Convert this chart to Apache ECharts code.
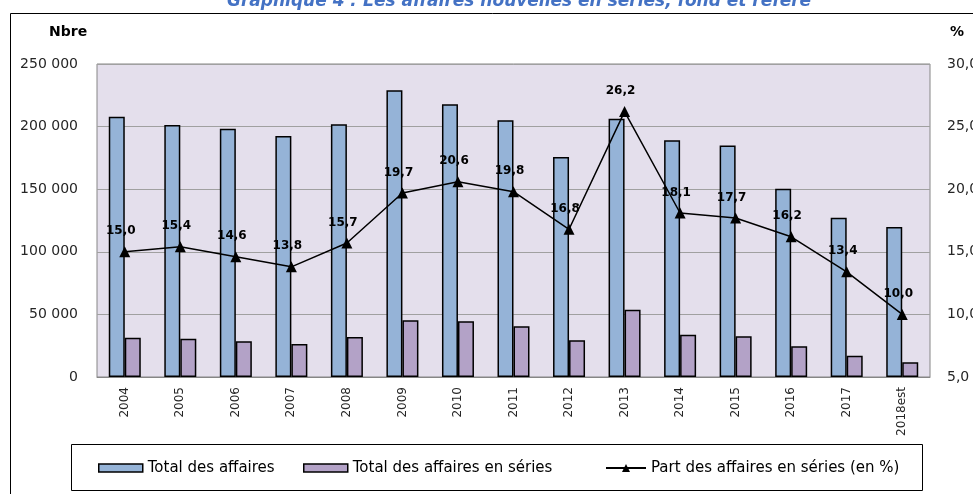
<!DOCTYPE html>
<html>
<head>
<meta charset="utf-8">
<script src="https://cdn.jsdelivr.net/npm/echarts@6/dist/echarts.min.js"></script>
<style>
    html, body { margin: 0; padding: 0; background: #fff; }
    #chart_main { width: 973px; height: 494px; }
</style>
</head>
<body>
<div id="chart_main"></div>
<script>
    // donnees
    let years = ['2004', '2005', '2006', '2007', '2008', '2009', '2010', '2011', '2012', '2013', '2014', '2015', '2016', '2017', '2018est'];
    let totalAffaires = [207900, 201300, 198300, 192500, 201800, 229000, 217800, 205000, 175700, 206300, 189000, 185000, 150400, 127200, 119800];
    let affairesSeries = [31400, 30600, 28500, 26400, 31900, 45300, 44500, 40500, 29300, 53800, 33800, 32500, 24500, 17000, 11700];
    let partSeries = [15.0, 15.4, 14.6, 13.8, 15.7, 19.7, 20.6, 19.8, 16.8, 26.2, 18.1, 17.7, 16.2, 13.4, 10.0];

    let name1 = 'Total des affaires';
    let name2 = 'Total des affaires en séries';
    let name3 = 'Part des affaires en séries (en %)';

    let font = 'DejaVu Sans';
    let legendText = { fontFamily: font, fontSize: 15, color: '#000', lineHeight: 16 };
    let barIcon = { borderColor: '#000', borderWidth: 1.5 };

    let myChart = echarts.init(document.getElementById('chart_main'));
    let option = {
        animation: false,
        title: {
            text: 'Graphique 4 : Les affaires nouvelles en séries, fond et référé',
            left: 222,
            top: -12,
            textStyle: { fontFamily: font, fontSize: 17, fontWeight: 'bold', fontStyle: 'italic', color: '#4472C4' }
        },
        graphic: [
            // cadre exterieur
            { type: 'rect', z: -1, shape: { x: 10.5, y: 13.5, width: 1000, height: 600 }, style: { fill: 'none', stroke: '#000', lineWidth: 1 } },
            // cadre de la legende
            { type: 'rect', z: -1, shape: { x: 71.5, y: 444.5, width: 851, height: 46 }, style: { fill: '#fff', stroke: '#000', lineWidth: 1 } },
            { type: 'text', left: 49, top: 25, style: { text: 'Nbre', fontFamily: font, fontSize: 14, fontWeight: 'bold', fill: '#000' } },
            { type: 'text', left: 950, top: 25, style: { text: '%', fontFamily: font, fontSize: 14, fontWeight: 'bold', fill: '#000' } }
        ],
        legend: [
            { data: [{ name: name1, icon: 'rect', itemStyle: barIcon }], left: 98, top: 460, padding: 0, itemWidth: 44, itemHeight: 8, textStyle: legendText },
            { data: [{ name: name2, icon: 'rect', itemStyle: barIcon }], left: 303, top: 460, padding: 0, itemWidth: 44, itemHeight: 8, textStyle: legendText },
            { data: [name3], left: 605, top: 460, padding: 0, itemWidth: 40, itemHeight: 10, textStyle: legendText }
        ],
        grid: {
            left: 97,
            right: 43,
            top: 64,
            bottom: 117,
            outerBoundsMode: 'none',
            containLabel: false,
            show: true,
            backgroundColor: '#E4DFEC',
            borderColor: '#868686',
            borderWidth: 1
        },
        xAxis: {
            type: 'category',
            data: years,
            axisTick: { show: false },
            axisLine: { lineStyle: { color: '#868686' } },
            axisLabel: { rotate: 90, margin: 10, fontFamily: font, fontSize: 12, color: '#262626' }
        },
        yAxis: [
            {
                type: 'value',
                min: 0,
                max: 250000,
                interval: 50000,
                axisLine: { show: false },
                axisTick: { show: false },
                splitLine: { lineStyle: { color: '#A0A0A0' } },
                axisLabel: {
                    margin: 19,
                    fontFamily: font,
                    fontSize: 14,
                    color: '#262626',
                    formatter: function (v) {
                        return String(v).replace(/\B(?=(\d{3})+(?!\d))/g, ' ');
                    }
                }
            },
            {
                type: 'value',
                min: 5,
                max: 30,
                interval: 5,
                axisLine: { show: false },
                axisTick: { show: false },
                splitLine: { show: false },
                axisLabel: {
                    margin: 17,
                    fontFamily: font,
                    fontSize: 14,
                    color: '#262626',
                    formatter: function (v) {
                        return v.toFixed(1).replace('.', ',');
                    }
                }
            }
        ],
        series: [
            {
                name: name1,
                type: 'bar',
                data: totalAffaires,
                barWidth: 16,
                barGap: '0%',
                itemStyle: { color: '#95B3D7', borderColor: '#000', borderWidth: 1.5 }
            },
            {
                name: name2,
                type: 'bar',
                data: affairesSeries,
                barWidth: 16,
                barGap: '0%',
                itemStyle: { color: '#B3A2C7', borderColor: '#000', borderWidth: 1.5 }
            },
            {
                name: name3,
                type: 'line',
                yAxisIndex: 1,
                data: partSeries,
                symbol: 'triangle',
                symbolSize: 11,
                lineStyle: { color: '#000', width: 1.5 },
                itemStyle: { color: '#000' },
                label: {
                    show: true,
                    position: 'top',
                    distance: 9,
                    offset: [-4, 0],
                    fontFamily: font,
                    fontSize: 12,
                    fontWeight: 'bold',
                    color: '#000',
                    formatter: function (p) {
                        return p.value.toFixed(1).replace('.', ',');
                    }
                }
            }
        ]
    };
    myChart.setOption(option);
</script>
</body>
</html>
